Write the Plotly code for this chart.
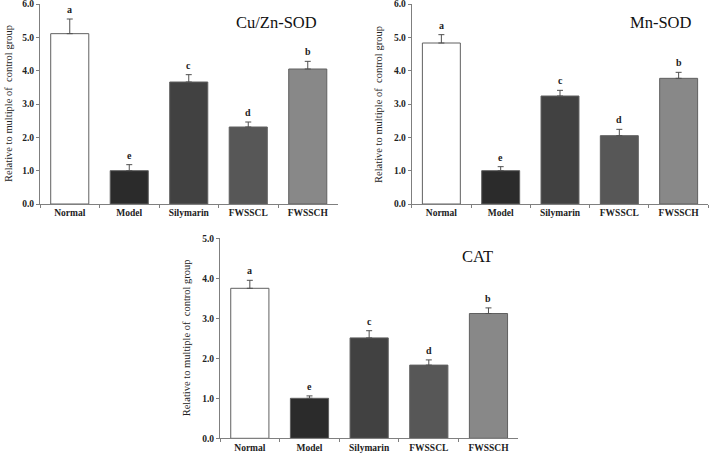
import plotly.graph_objects as go

categories = ["Normal", "Model", "Silymarin", "FWSSCL", "FWSSCH"]
letters_cuzn = ["a", "e", "c", "d", "b"]
letters_mn = ["a", "e", "c", "d", "b"]
letters_cat = ["a", "e", "c", "d", "b"]

cuzn_sod = [5.11, 1.0, 3.66, 2.31, 4.05]
cuzn_sod_err = [0.44, 0.18, 0.22, 0.15, 0.23]
mn_sod = [4.83, 1.0, 3.24, 2.05, 3.77]
mn_sod_err = [0.25, 0.12, 0.17, 0.19, 0.18]
cat = [3.75, 1.0, 2.51, 1.83, 3.12]
cat_err = [0.20, 0.06, 0.18, 0.13, 0.14]

bar_colors = ["#ffffff", "#2b2b2b", "#414141", "#575757", "#888888"]

FONT = "Liberation Serif"
W, H = 709, 457

panels = [
    dict(vals=cuzn_sod, err=cuzn_sod_err, letters=letters_cuzn, title="Cu/Zn-SOD",
         xpx=(40, 337.5), ypx=(4, 204), ymax=6, ytitle_x=8, title_xy=(276, 22)),
    dict(vals=mn_sod, err=mn_sod_err, letters=letters_mn, title="Mn-SOD",
         xpx=(411.7, 708.3), ypx=(4, 204), ymax=6, ytitle_x=378, title_xy=(661, 22.5)),
    dict(vals=cat, err=cat_err, letters=letters_cat, title="CAT",
         xpx=(220, 518.3), ypx=(238.3, 438.3), ymax=5, ytitle_x=186, title_xy=(478, 256.5)),
]

fig = go.Figure()
annotations = []
for i, p in enumerate(panels, start=1):
    xa = "x" if i == 1 else f"x{i}"
    ya = "y" if i == 1 else f"y{i}"
    fig.add_trace(go.Bar(
        x=categories, y=p["vals"], xaxis=xa, yaxis=ya,
        marker=dict(color=bar_colors, line=dict(color="#606060", width=1)),
        error_y=dict(type="data", array=p["err"], arrayminus=[0] * 5, symmetric=False,
                     color="#505050", thickness=1, width=3),
        showlegend=False, hoverinfo="skip",
    ))
    xd = [p["xpx"][0] / W, min(p["xpx"][1] / W, 1.0)]
    yd = [(H - p["ypx"][1]) / H, (H - p["ypx"][0]) / H]
    xkey = "xaxis" if i == 1 else f"xaxis{i}"
    ykey = "yaxis" if i == 1 else f"yaxis{i}"
    fig.layout[xkey] = dict(
        domain=xd, anchor=ya, type="category", showline=True, linecolor="#7f7f7f",
        linewidth=1, ticks="outside", tickson="boundaries", ticklen=3, tickcolor="#7f7f7f",
        showgrid=False, zeroline=False, automargin=False, ticklabeloverflow="allow",
        tickfont=dict(family=FONT, size=9.5, color="#222222"),
        range=[-0.5, 4.5], fixedrange=True,
    )
    fig.layout[ykey] = dict(
        domain=yd, anchor=xa, range=[0, p["ymax"]],
        showline=True, linecolor="#7f7f7f", linewidth=1, ticks="outside", ticklen=3,
        tickcolor="#7f7f7f", showgrid=False, zeroline=False, automargin=False,
        ticklabeloverflow="allow",
        tickfont=dict(family=FONT, size=9.5, color="#222222"), fixedrange=True,
    )
    tv = [k for k in range(0, p["ymax"] + 1)]
    fig.layout[ykey].tickvals = tv
    fig.layout[ykey].ticktext = [f"<b>{k:.1f}</b>" for k in tv]
    fig.layout[xkey].tickvals = categories
    fig.layout[xkey].ticktext = [f"<b>{c}</b>" for c in categories]

    # y-axis title
    annotations.append(dict(
        x=p["ytitle_x"] / W, y=(H - (p["ypx"][0] + p["ypx"][1]) / 2) / H,
        xref="paper", yref="paper", text="Relative to multiple of  control group",
        textangle=-90, showarrow=False, font=dict(family=FONT, size=10.5, color="#222222"),
        xanchor="center", yanchor="middle",
    ))
    # panel title
    annotations.append(dict(
        x=p["title_xy"][0] / W, y=(H - p["title_xy"][1]) / H, xref="paper", yref="paper",
        text=p["title"], showarrow=False, font=dict(family=FONT, size=16.5, color="#111111"),
        xanchor="center", yanchor="middle",
    ))
    # significance letters
    for c, v, e, L in zip(categories, p["vals"], p["err"], p["letters"]):
        annotations.append(dict(
            x=c, y=v + e, xref=xa, yref=ya, text=f"<b>{L}</b>", showarrow=False,
            yanchor="bottom", yshift=2, font=dict(family=FONT, size=10, color="#222222"),
        ))

fig.update_layout(
    width=W, height=H, margin=dict(l=0, r=0, t=0, b=0, autoexpand=False),
    paper_bgcolor="white", plot_bgcolor="white", bargap=0.36,
    annotations=annotations,
)

fig.write_html(
    "out.html",
    config={"displayModeBar": False},
    post_script="document.body.style.margin='0';document.body.style.overflow='hidden';",
)
